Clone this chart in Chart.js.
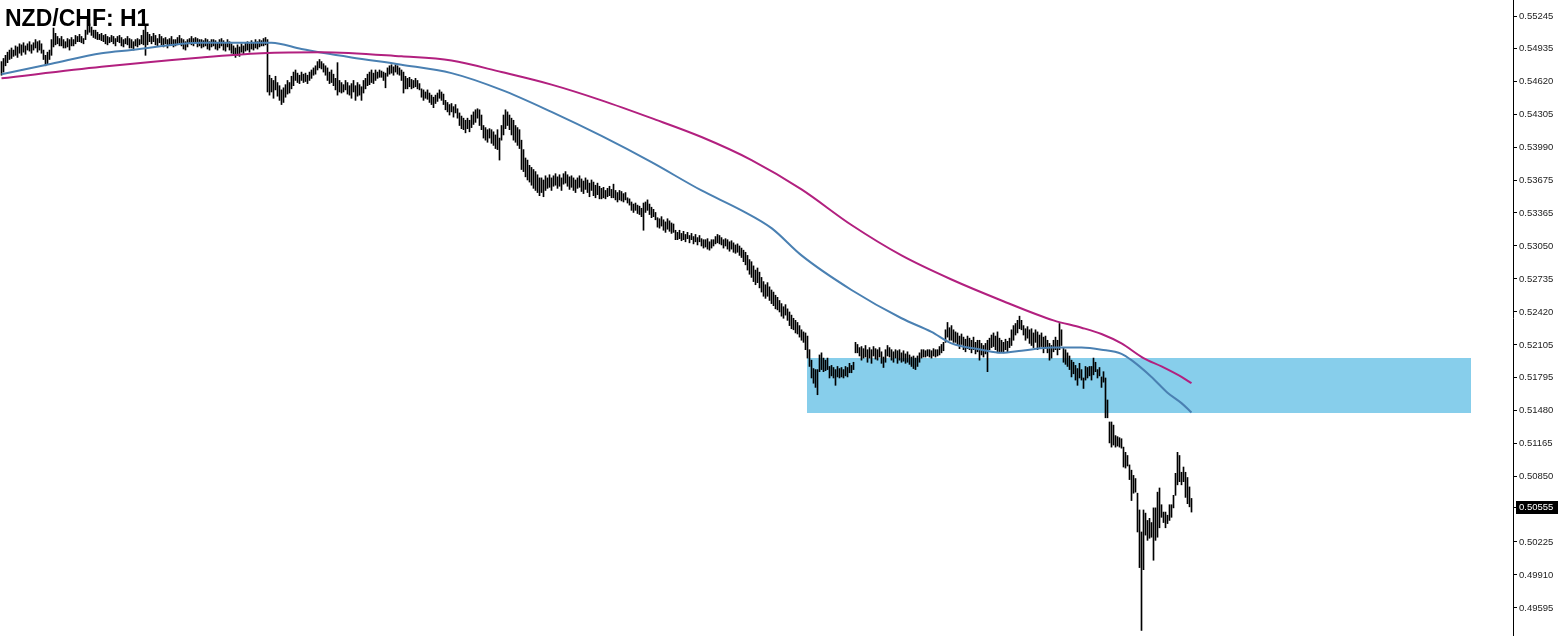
<!DOCTYPE html>
<html><head><meta charset="utf-8">
<script src="https://cdn.jsdelivr.net/npm/chart.js@4.4.1/dist/chart.umd.min.js"></script>
<style>
html,body{margin:0;padding:0;background:#fff;}
#wrap{position:relative;width:1558px;height:636px;overflow:hidden;}
#title{position:absolute;left:5px;top:7px;font:bold 23px/23px "Liberation Sans",Arial,sans-serif;color:#000;pointer-events:none;white-space:nowrap;}
</style></head><body>
<div id="wrap"><canvas id="c" width="1558" height="636"></canvas><div id="title">NZD/CHF: H1</div></div>
<script>
// ---- hourly bar highs / lows (one entry per H1 bar) ----
const highs = [
.5481,.5484,.5487,.5490,.5492,.5494,.5492,.5496,.5495,.5498,
.5497,.5499,.5496,.5498,.5500,.5497,.5499,.5502,.5500,.5501,
.5498,.5492,.5487,.5490,.5492,.5502,.5513,.5508,.5505,.5503,
.5505,.5502,.5500,.5503,.5502,.5504,.5502,.5506,.5505,.5507,
.5505,.5503,.5511,.5521,.5517,.5514,.5511,.5511,.5509,.5507,
.5508,.5506,.5507,.5505,.5504,.5506,.5505,.5503,.5505,.5506,
.5504,.5502,.5503,.5505,.5503,.5502,.5500,.5502,.5503,.5502,
.5506,.5511,.5516,.5509,.5507,.5505,.5508,.5506,.5503,.5507,
.5505,.5503,.5504,.5502,.5503,.5505,.5502,.5502,.5504,.5506,
.5503,.5502,.5500,.5502,.5503,.5505,.5503,.5504,.5503,.5502,
.5502,.5501,.5503,.5502,.5500,.5502,.5502,.5501,.5499,.5502,
.5503,.5501,.5499,.5502,.5500,.5498,.5496,.5494,.5497,.5495,
.5498,.5496,.5499,.5500,.5498,.5501,.5499,.5502,.5500,.5502,
.5501,.5503,.5504,.5502,.5468,.5465,.5463,.5467,.5461,.5458,
.5454,.5456,.5459,.5463,.5461,.5467,.5471,.5473,.5470,.5468,
.5471,.5469,.5470,.5468,.5471,.5473,.5475,.5477,.5481,.5483,
.5481,.5479,.5477,.5475,.5471,.5473,.5469,.5465,.5480,.5463,
.5461,.5459,.5463,.5461,.5458,.5460,.5463,.5458,.5461,.5459,
.5457,.5463,.5465,.5469,.5471,.5473,.5470,.5473,.5471,.5473,
.5472,.5471,.5470,.5475,.5477,.5478,.5476,.5478,.5477,.5475,
.5473,.5471,.5467,.5465,.5466,.5464,.5463,.5465,.5463,.5460,
.5455,.5454,.5452,.5454,.5451,.5449,.5447,.5449,.5451,.5454,
.5452,.5450,.5444,.5442,.5440,.5441,.5438,.5440,.5436,.5432,
.5429,.5427,.5425,.5427,.5425,.5430,.5433,.5435,.5436,.5435,
.5430,.5420,.5418,.5416,.5417,.5416,.5414,.5411,.5416,.5408,
.5420,.5430,.5435,.5433,.5430,.5427,.5425,.5420,.5418,.5416,
.5406,.5397,.5389,.5387,.5382,.5380,.5378,.5376,.5373,.5370,
.5370,.5368,.5372,.5370,.5373,.5370,.5372,.5374,.5371,.5373,
.5370,.5374,.5376,.5373,.5371,.5372,.5370,.5368,.5370,.5372,
.5369,.5367,.5370,.5368,.5365,.5368,.5366,.5363,.5365,.5362,
.5360,.5361,.5358,.5360,.5362,.5359,.5364,.5358,.5356,.5358,
.5357,.5355,.5356,.5351,.5350,.5347,.5345,.5346,.5344,.5343,
.5341,.5346,.5347,.5349,.5345,.5342,.5340,.5337,.5332,.5331,
.5333,.5330,.5328,.5331,.5329,.5327,.5326,.5320,.5318,.5320,
.5317,.5319,.5316,.5318,.5315,.5317,.5314,.5316,.5313,.5315,
.5312,.5311,.5311,.5312,.5309,.5311,.5311,.5314,.5316,.5315,
.5313,.5311,.5312,.5311,.5309,.5310,.5308,.5306,.5307,.5305,
.5303,.5301,.5299,.5296,.5292,.5290,.5286,.5282,.5284,.5280,
.5275,.5271,.5268,.5270,.5266,.5263,.5261,.5258,.5256,.5253,
.5250,.5247,.5249,.5245,.5242,.5239,.5236,.5234,.5232,.5229,
.5225,.5223,.5222,.5219,.5206,.5196,.5188,.5187,.5187,.5201,
.5203,.5198,.5196,.5198,.5190,.5191,.5189,.5187,.5190,.5188,
.5189,.5187,.5190,.5189,.5193,.5191,.5194,.5213,.5211,.5208,
.5209,.5207,.5210,.5206,.5208,.5206,.5209,.5207,.5206,.5208,
.5204,.5199,.5206,.5210,.5208,.5206,.5204,.5206,.5205,.5206,
.5203,.5205,.5202,.5204,.5201,.5199,.5200,.5198,.5200,.5203,
.5206,.5206,.5205,.5206,.5206,.5205,.5207,.5206,.5206,.5209,
.5211,.5213,.5225,.5232,.5227,.5229,.5225,.5223,.5222,.5219,
.5221,.5218,.5216,.5219,.5217,.5215,.5218,.5213,.5215,.5215,
.5212,.5210,.5212,.5215,.5217,.5220,.5222,.5219,.5223,.5217,
.5215,.5213,.5216,.5214,.5217,.5225,.5229,.5231,.5234,.5238,
.5234,.5229,.5226,.5228,.5225,.5226,.5222,.5225,.5223,.5220,
.5222,.5218,.5219,.5215,.5212,.5210,.5215,.5218,.5215,.5231,
.5225,.5208,.5206,.5203,.5200,.5196,.5194,.5191,.5188,.5193,
.5187,.5179,.5190,.5189,.5190,.5190,.5198,.5194,.5187,.5189,
.5180,.5185,.5179,.5158,.5137,.5137,.5134,.5124,.5123,.5122,
.5121,.5113,.5108,.5105,.5096,.5091,.5086,.5083,.5069,.5053,
.5032,.5053,.5050,.5043,.5045,.5041,.5055,.5055,.5070,.5074,
.5058,.5051,.5051,.5048,.5058,.5058,.5067,.5088,.5108,.5105,
.5089,.5094,.5089,.5084,.5075,.5064
];
const lows = [
.5468,.5471,.5477,.5480,.5483,.5484,.5486,.5487,.5485,.5489,
.5487,.5490,.5488,.5492,.5491,.5489,.5492,.5494,.5490,.5492,
.5489,.5483,.5477,.5479,.5483,.5487,.5495,.5497,.5498,.5496,
.5496,.5494,.5494,.5495,.5492,.5496,.5496,.5498,.5500,.5500,
.5499,.5498,.5502,.5507,.5509,.5506,.5504,.5503,.5502,.5502,
.5501,.5500,.5498,.5497,.5499,.5500,.5498,.5496,.5500,.5499,
.5496,.5495,.5498,.5497,.5494,.5494,.5492,.5496,.5495,.5497,
.5498,.5497,.5487,.5497,.5500,.5498,.5500,.5497,.5496,.5499,
.5497,.5495,.5498,.5494,.5497,.5498,.5495,.5496,.5497,.5499,
.5496,.5493,.5492,.5495,.5498,.5497,.5496,.5499,.5495,.5496,
.5494,.5495,.5496,.5493,.5492,.5495,.5496,.5493,.5492,.5494,
.5496,.5492,.5491,.5495,.5492,.5489,.5487,.5485,.5487,.5486,
.5490,.5488,.5491,.5492,.5490,.5493,.5492,.5494,.5493,.5495,
.5496,.5496,.5497,.5452,.5449,.5452,.5446,.5454,.5448,.5444,
.5440,.5442,.5447,.5450,.5451,.5455,.5458,.5463,.5461,.5460,
.5463,.5461,.5462,.5460,.5463,.5465,.5468,.5469,.5473,.5475,
.5474,.5471,.5468,.5463,.5460,.5461,.5458,.5454,.5449,.5452,
.5451,.5452,.5454,.5450,.5449,.5446,.5452,.5444,.5448,.5449,
.5444,.5451,.5455,.5458,.5459,.5461,.5460,.5463,.5465,.5466,
.5466,.5463,.5456,.5467,.5469,.5470,.5468,.5471,.5469,.5468,
.5463,.5451,.5455,.5455,.5457,.5455,.5456,.5457,.5455,.5454,
.5447,.5444,.5446,.5445,.5442,.5440,.5437,.5441,.5443,.5446,
.5444,.5440,.5435,.5433,.5430,.5433,.5428,.5432,.5427,.5420,
.5417,.5416,.5413,.5417,.5414,.5418,.5421,.5423,.5427,.5420,
.5416,.5408,.5406,.5404,.5408,.5403,.5401,.5398,.5397,.5387,
.5406,.5411,.5417,.5420,.5416,.5411,.5406,.5404,.5401,.5398,
.5378,.5376,.5371,.5368,.5366,.5363,.5360,.5358,.5356,.5353,
.5356,.5352,.5358,.5360,.5361,.5358,.5362,.5363,.5360,.5362,
.5358,.5364,.5365,.5362,.5359,.5361,.5358,.5356,.5360,.5361,
.5357,.5355,.5359,.5356,.5352,.5358,.5353,.5351,.5354,.5350,
.5350,.5351,.5350,.5352,.5353,.5351,.5351,.5349,.5347,.5349,
.5348,.5347,.5349,.5346,.5344,.5339,.5337,.5339,.5336,.5335,
.5333,.5320,.5337,.5339,.5335,.5332,.5333,.5330,.5323,.5322,
.5324,.5320,.5318,.5321,.5319,.5317,.5318,.5311,.5311,.5312,
.5310,.5311,.5309,.5312,.5308,.5311,.5307,.5309,.5306,.5309,
.5305,.5303,.5304,.5302,.5301,.5303,.5305,.5307,.5308,.5307,
.5306,.5303,.5305,.5302,.5300,.5302,.5299,.5298,.5299,.5296,
.5294,.5290,.5287,.5282,.5278,.5275,.5271,.5268,.5270,.5265,
.5261,.5257,.5255,.5257,.5253,.5250,.5248,.5245,.5244,.5242,
.5238,.5236,.5239,.5234,.5229,.5226,.5225,.5222,.5221,.5218,
.5215,.5213,.5206,.5198,.5190,.5179,.5174,.5170,.5163,.5185,
.5187,.5185,.5186,.5187,.5179,.5181,.5179,.5172,.5180,.5179,
.5180,.5179,.5181,.5180,.5184,.5184,.5187,.5203,.5203,.5200,
.5196,.5198,.5199,.5194,.5198,.5193,.5200,.5197,.5196,.5199,
.5193,.5189,.5194,.5200,.5199,.5196,.5194,.5198,.5193,.5196,
.5194,.5195,.5193,.5194,.5192,.5190,.5188,.5187,.5190,.5194,
.5198,.5199,.5199,.5200,.5199,.5198,.5200,.5199,.5200,.5201,
.5203,.5205,.5213,.5218,.5215,.5215,.5213,.5213,.5210,.5207,
.5211,.5206,.5204,.5207,.5206,.5203,.5206,.5202,.5204,.5196,
.5201,.5199,.5202,.5185,.5206,.5208,.5209,.5206,.5203,.5203,
.5204,.5203,.5206,.5204,.5208,.5210,.5215,.5220,.5222,.5226,
.5225,.5220,.5215,.5217,.5212,.5210,.5208,.5213,.5206,.5208,
.5209,.5203,.5207,.5203,.5196,.5198,.5204,.5206,.5201,.5206,
.5210,.5194,.5192,.5190,.5187,.5180,.5183,.5177,.5172,.5179,
.5177,.5169,.5177,.5179,.5181,.5177,.5182,.5185,.5179,.5181,
.5170,.5175,.5141,.5141,.5117,.5113,.5115,.5113,.5114,.5113,
.5112,.5094,.5093,.5095,.5082,.5062,.5069,.5070,.5032,.4998,
.4938,.4996,.5029,.5024,.5026,.5027,.5005,.5024,.5027,.5036,
.5046,.5041,.5036,.5040,.5043,.5046,.5055,.5067,.5077,.5080,
.5077,.5080,.5065,.5059,.5056,.5051
];
// ---- moving averages (bar index -> price) ----
const maFastIdx = [0,25,50,65,100,135,150,175,200,225,250,275,300,325,350,370,385,400,425,450,465,475,490,500,510,525,540,550,560,565,575,583,590,595];
const maFastVal = [.5469,.5479,.5489,.5492,.5499,.5499,.5493,.5485,.5478,.5470,.5454,.5433,.5410,.5385,.5358,.5339,.5322,.5296,.5263,.5236,.5223,.5212,.5206,.5203,.5205,.5208,.5208,.5206,.5202,.5196,.5180,.5165,.5155,.5146];
const maSlowIdx = [0,50,100,130,160,200,225,250,275,300,325,350,375,400,425,450,475,500,526,540,550,560,571,580,590,595];
const maSlowVal = [.5465,.5476,.5485,.5489,.5490,.5486,.5482,.5471,.5459,.5444,.5427,.5409,.5387,.5359,.5325,.5296,.5273,.5253,.5234,.5227,.5221,.5212,.5198,.5190,.5180,.5174];
// ---- price axis labels, zone and current price ----
const priceTicks = [0.55245,0.54935,0.54620,0.54305,0.53990,0.53675,0.53365,0.53050,0.52735,0.52420,0.52105,0.51795,0.51480,0.51165,0.50850,0.50225,0.49910,0.49595];
const lastPrice = 0.50555;
const zoneStart = 402.75, zoneEnd = 734.75, zoneTop = 0.51981, zoneBottom = 0.51452;
const priceMin = 0.49327, priceMax = 0.55398;

const n = Math.min(highs.length, lows.length);
const barData = [];
for (let i = 0; i < n; i++) barData.push({x: i, y: [lows[i], highs[i]]});
const fastData = maFastIdx.map((x, i) => ({x, y: maFastVal[i]}));
const slowData = maSlowIdx.map((x, i) => ({x, y: maSlowVal[i]}));

const zonePlugin = {
  id: 'zone',
  beforeDatasetsDraw(chart) {
    const {ctx, scales: {x, y}} = chart;
    const l = Math.round(x.getPixelForValue(zoneStart)), r = Math.round(x.getPixelForValue(zoneEnd));
    const t = Math.round(y.getPixelForValue(zoneTop)), b = Math.round(y.getPixelForValue(zoneBottom));
    ctx.save(); ctx.fillStyle = '#87ceeb'; ctx.fillRect(l, t, r - l, b - t); ctx.restore();
  }
};
const lastPlugin = {
  id: 'last',
  afterDraw(chart) {
    const {ctx, scales: {y}} = chart;
    const yy = Math.round(y.getPixelForValue(lastPrice));
    const x0 = y.left;
    ctx.save();
    ctx.fillStyle = '#000';
    ctx.fillRect(x0, yy, 4, 1);
    ctx.fillRect(x0 + 3, yy - 6, 45, 13);
    ctx.fillStyle = '#fff';
    ctx.font = '9.5px "Liberation Sans", Arial, sans-serif';
    ctx.textBaseline = 'middle';
    ctx.textAlign = 'left';
    ctx.fillText(lastPrice.toFixed(5), x0 + 6, yy + 0.5);
    ctx.restore();
  }
};

new Chart(document.getElementById('c'), {
  data: {
    datasets: [
      {type: 'line', data: slowData, borderColor: '#b2207f', borderWidth: 2, pointRadius: 0, tension: 0.4, cubicInterpolationMode: 'monotone', order: 1},
      {type: 'line', data: fastData, borderColor: '#4a80b2', borderWidth: 2, pointRadius: 0, tension: 0.4, cubicInterpolationMode: 'monotone', order: 1},
      {type: 'bar', data: barData, backgroundColor: '#000', borderWidth: 0, barThickness: 1, borderSkipped: false, order: 2}
    ]
  },
  options: {
    responsive: false, animation: false, devicePixelRatio: 1, events: [],
    layout: {padding: 0},
    plugins: {legend: {display: false}, tooltip: {enabled: false}, title: {display: false}},
    scales: {
      x: {type: 'linear', min: -0.75, max: 755.75, offset: false, display: false},
      y: {
        type: 'linear', position: 'right', min: priceMin, max: priceMax, offset: false,
        afterBuildTicks(s) { s.ticks = priceTicks.map(v => ({value: v})); },
        afterFit(s) { s.width = 45; s.paddingTop = 0; s.paddingBottom = 0; },
        ticks: {callback: v => Number(v).toFixed(5), font: {family: 'Liberation Sans', size: 9.5}, color: '#222', padding: 2, autoSkip: false, maxRotation: 0},
        grid: {drawOnChartArea: false, drawTicks: true, tickLength: 4, color: '#000', tickColor: '#000'},
        border: {display: true, color: '#000', width: 1}
      }
    }
  },
  plugins: [zonePlugin, lastPlugin]
});
</script>
</body></html>
